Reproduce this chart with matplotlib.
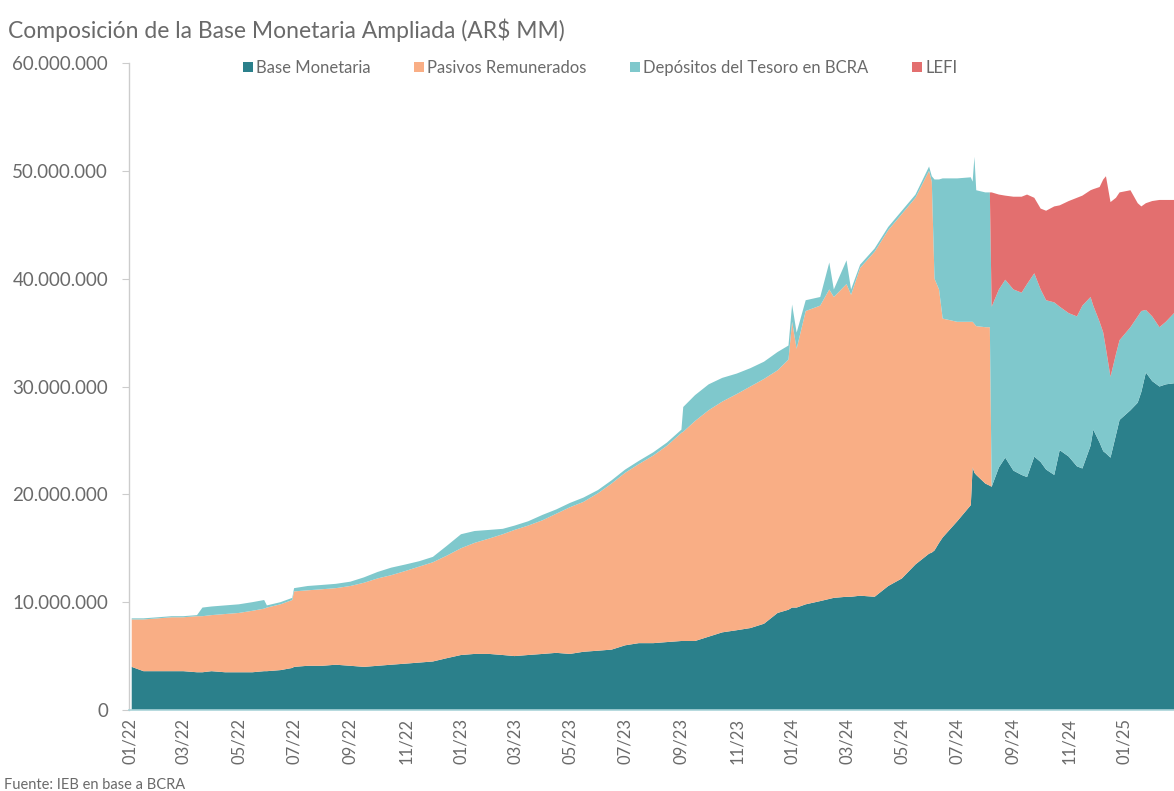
import numpy as np
import pandas as pd
import matplotlib
matplotlib.use("Agg")
import matplotlib.pyplot as plt
import matplotlib.dates as mdates
from matplotlib.ticker import FuncFormatter
from matplotlib.patches import Patch

plt.rcParams['font.family'] = ['Lato', 'DejaVu Sans']

# Composición de la base monetaria ampliada, en millones de AR$ MM
fechas = [
    "2022-01-03", "2022-01-16", "2022-02-01", "2022-02-16", "2022-03-01", "2022-03-16",
    "2022-03-22", "2022-04-01", "2022-04-16", "2022-05-01", "2022-05-16", "2022-05-29",
    "2022-06-01", "2022-06-16", "2022-06-29", "2022-07-01", "2022-07-16", "2022-08-01",
    "2022-08-16", "2022-09-01", "2022-09-16", "2022-10-01", "2022-10-16", "2022-11-01",
    "2022-11-16", "2022-12-01", "2022-12-16", "2023-01-01", "2023-01-16", "2023-02-01",
    "2023-02-16", "2023-03-01", "2023-03-16", "2023-04-01", "2023-04-16", "2023-05-01",
    "2023-05-16", "2023-06-01", "2023-06-16", "2023-07-01", "2023-07-16", "2023-08-01",
    "2023-08-16", "2023-09-01", "2023-09-03", "2023-09-16", "2023-10-01", "2023-10-16",
    "2023-11-01", "2023-11-16", "2023-12-01", "2023-12-16", "2023-12-28", "2024-01-01",
    "2024-01-06", "2024-01-16", "2024-02-01", "2024-02-11", "2024-02-16", "2024-03-01",
    "2024-03-06", "2024-03-16", "2024-04-01", "2024-04-16", "2024-05-01", "2024-05-16",
    "2024-05-31", "2024-06-03", "2024-06-06", "2024-06-11", "2024-06-15", "2024-07-01",
    "2024-07-16", "2024-07-18", "2024-07-20", "2024-07-22", "2024-08-01", "2024-08-06",
    "2024-08-08", "2024-08-16", "2024-08-23", "2024-09-01", "2024-09-10", "2024-09-16",
    "2024-09-24", "2024-10-01", "2024-10-07", "2024-10-16", "2024-10-22", "2024-11-01",
    "2024-11-10", "2024-11-16", "2024-11-25", "2024-11-28", "2024-12-05", "2024-12-09",
    "2024-12-12", "2024-12-17", "2024-12-23", "2024-12-27", "2025-01-08", "2025-01-16",
    "2025-01-20", "2025-01-25", "2025-02-01", "2025-02-09", "2025-02-16", "2025-02-25",
]

base_monetaria = [
    4.0, 3.6, 3.6, 3.6, 3.6, 3.5, 3.5, 3.6, 3.5, 3.5, 3.5, 3.6,
    3.6, 3.7, 3.9, 4.0, 4.1, 4.1, 4.2, 4.1, 4.0, 4.1, 4.2, 4.3,
    4.4, 4.5, 4.8, 5.1, 5.2, 5.2, 5.1, 5.0, 5.1, 5.2, 5.3, 5.2,
    5.4, 5.5, 5.6, 6.0, 6.2, 6.2, 6.3, 6.4, 6.4, 6.4, 6.8, 7.2,
    7.4, 7.6, 8.0, 9.0, 9.3, 9.5, 9.5, 9.8, 10.1, 10.3, 10.4, 10.5,
    10.5, 10.6, 10.5, 11.5, 12.2, 13.5, 14.5, 14.6, 14.8, 15.5, 16.0, 17.5,
    19.0, 22.5, 22.0, 21.8, 21.0, 20.8, 20.7, 22.5, 23.4, 22.2, 21.8, 21.6,
    23.5, 23.0, 22.3, 21.8, 24.1, 23.5, 22.6, 22.4, 24.5, 26.0, 24.8, 24.0,
    23.8, 23.4, 25.5, 26.9, 27.8, 28.5, 29.5, 31.3, 30.5, 30.0, 30.2, 30.3,
]

pasivos_remunerados = [
    4.4, 4.8, 4.9, 5.0, 5.0, 5.2, 5.2, 5.2, 5.4, 5.5, 5.7, 5.8,
    5.9, 6.1, 6.3, 7.0, 7.0, 7.1, 7.1, 7.4, 7.8, 8.1, 8.3, 8.6,
    8.9, 9.2, 9.5, 9.9, 10.3, 10.7, 11.2, 11.7, 12.0, 12.4, 12.9, 13.6,
    13.9, 14.6, 15.4, 16.0, 16.6, 17.4, 18.2, 19.3, 19.4, 20.4, 21.0, 21.4,
    21.9, 22.4, 22.7, 22.5, 23.2, 26.5, 24.0, 27.2, 27.4, 28.7, 27.9, 29.0,
    28.0, 30.4, 32.0, 33.0, 33.8, 34.0, 35.5, 34.4, 25.2, 23.5, 20.3, 18.5,
    17.0, 13.5, 13.8, 13.8, 14.5, 14.7, 0, 0, 0, 0, 0, 0,
    0, 0, 0, 0, 0, 0, 0, 0, 0, 0, 0, 0,
    0, 0, 0, 0, 0, 0, 0, 0, 0, 0, 0, 0,
]

depositos_tesoro = [
    0.1, 0.1, 0.1, 0.1, 0.1, 0.1, 0.8, 0.8, 0.8, 0.8, 0.8, 0.8,
    0.2, 0.2, 0.2, 0.3, 0.4, 0.4, 0.4, 0.4, 0.5, 0.6, 0.7, 0.6,
    0.5, 0.5, 0.9, 1.3, 1.1, 0.8, 0.5, 0.4, 0.4, 0.5, 0.4, 0.4,
    0.4, 0.3, 0.3, 0.3, 0.3, 0.3, 0.3, 0.3, 2.3, 2.4, 2.4, 2.2,
    1.9, 1.7, 1.6, 1.7, 1.3, 1.6, 1.5, 1.0, 0.8, 2.5, 0.7, 2.2,
    0.5, 0.3, 0.3, 0.3, 0.3, 0.3, 0.4, 0.5, 9.2, 10.2, 13.0, 13.3,
    13.4, 13.0, 15.5, 12.6, 12.5, 12.5, 16.7, 16.5, 16.5, 16.8, 16.9, 17.9,
    17.0, 16.0, 15.7, 16.0, 13.3, 13.3, 13.9, 15.1, 13.8, 11.5, 11.2, 11.0,
    9.7, 7.5, 7.5, 7.4, 7.7, 8.0, 7.5, 5.8, 6.0, 5.5, 5.8, 6.5,
]

lefi = [
    0, 0, 0, 0, 0, 0, 0, 0, 0, 0, 0, 0,
    0, 0, 0, 0, 0, 0, 0, 0, 0, 0, 0, 0,
    0, 0, 0, 0, 0, 0, 0, 0, 0, 0, 0, 0,
    0, 0, 0, 0, 0, 0, 0, 0, 0, 0, 0, 0,
    0, 0, 0, 0, 0, 0, 0, 0, 0, 0, 0, 0,
    0, 0, 0, 0, 0, 0, 0, 0, 0, 0, 0, 0,
    0, 0, 0, 0, 0, 0, 10.6, 8.8, 7.8, 8.6, 8.9, 8.3,
    7.0, 7.5, 8.3, 8.9, 9.4, 10.4, 11.0, 10.2, 9.9, 10.8, 12.5, 14.2,
    16.0, 16.2, 14.5, 13.7, 12.7, 10.5, 9.7, 9.9, 10.7, 11.8, 11.3, 10.5,
]

series = ["Base Monetaria", "Pasivos Remunerados", "Depósitos del Tesoro en BCRA", "LEFI"]
colores = ["#2b808b", "#f9ae85", "#7fc8cc", "#e36f6f"]
gris = "#6a6a6a"

x = pd.to_datetime(fechas)
escala = 1e6
ys = [np.array(s) * escala for s in (base_monetaria, pasivos_remunerados, depositos_tesoro, lefi)]

fig = plt.figure(figsize=(11.74, 7.91), dpi=100)
ax = fig.add_axes([129 / 1174, 81 / 791, 1045 / 1174, 647 / 791])

ax.stackplot(x, *ys, colors=colores, linewidth=0)

ax.set_ylim(0, 60e6)
ax.set_yticks(np.arange(0, 60e6 + 1, 10e6))
ax.yaxis.set_major_formatter(FuncFormatter(lambda v, p: f"{v:,.0f}".replace(",", ".")))
ax.set_xlim(pd.Timestamp("2021-12-31"), pd.Timestamp("2025-02-25"))

ticks = pd.date_range("2022-01-01", "2025-01-01", freq="2MS")
ax.set_xticks(ticks)
ax.xaxis.set_major_formatter(mdates.DateFormatter("%m/%y"))
ax.tick_params(axis="x", rotation=90, labelsize=12, labelcolor=gris, length=0, pad=6)
ax.tick_params(axis="y", labelsize=13.5, labelcolor=gris, color="#cccccc", length=5, width=0.8, pad=10)

for side in ("top", "right"):
    ax.spines[side].set_visible(False)
ax.spines["left"].set_color("#cccccc")
ax.spines["left"].set_linewidth(1)
ax.spines["bottom"].set_color("#a9d3d8")
ax.spines["bottom"].set_linewidth(1.2)

handles = [Patch(facecolor=c, edgecolor="none") for c in colores]
fig.legend(handles, series, loc="center", bbox_to_anchor=(600 / 1174, 1 - 68 / 791), ncol=4,
           frameon=False, fontsize=12, handlelength=0.6, handleheight=0.6, handletextpad=0.2,
           columnspacing=2.6, labelcolor=gris)

fig.text(8 / 1174, 1 - 30 / 791, "Composición de la Base Monetaria Ampliada (AR$ MM)",
         fontsize=16.5, color=gris, va="center", ha="left")
fig.text(4 / 1174, 1 - 785 / 791, "Fuente: IEB en base a BCRA",
         fontsize=10.5, color=gris, va="center", ha="left")

fig.savefig("out.png", dpi=100)
